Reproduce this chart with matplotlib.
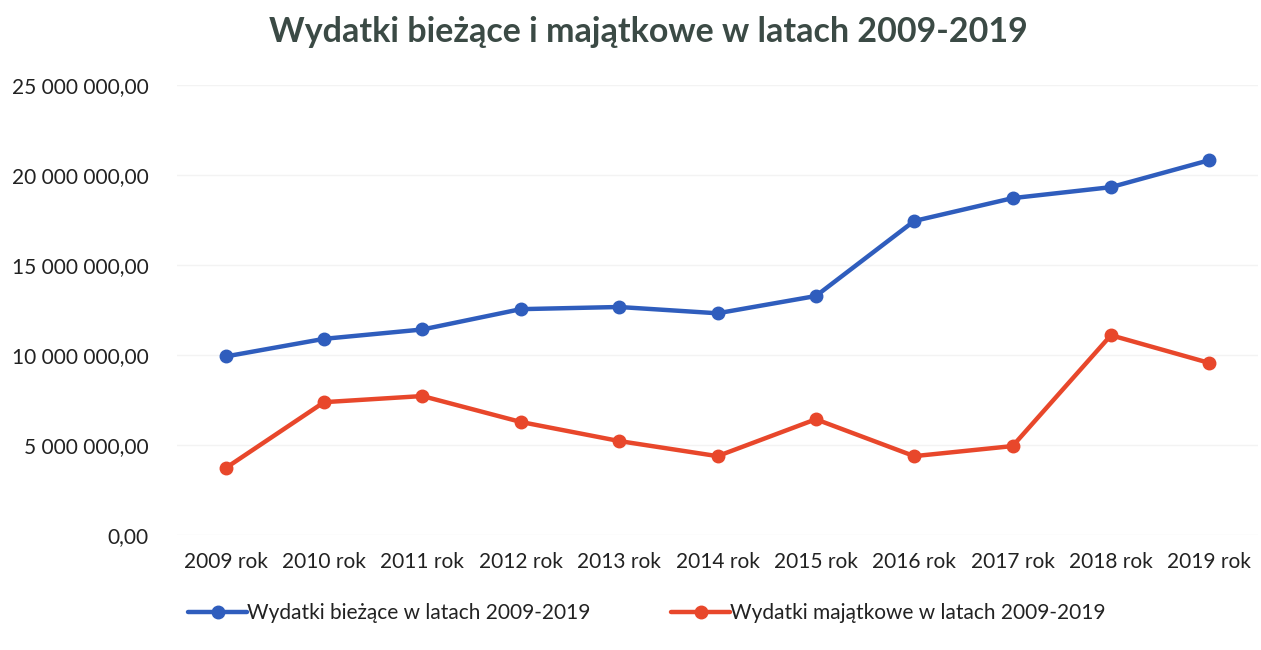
import matplotlib
matplotlib.use("Agg")
import matplotlib.pyplot as plt
from matplotlib.ticker import FuncFormatter

years = ["2009 rok", "2010 rok", "2011 rok", "2012 rok", "2013 rok", "2014 rok",
         "2015 rok", "2016 rok", "2017 rok", "2018 rok", "2019 rok"]
biezace = [9.92e6, 10.9e6, 11.42e6, 12.55e6, 12.67e6, 12.32e6,
           13.28e6, 17.45e6, 18.72e6, 19.33e6, 20.83e6]
majatkowe = [3.72e6, 7.38e6, 7.72e6, 6.28e6, 5.22e6, 4.38e6,
             6.43e6, 4.38e6, 4.94e6, 11.1e6, 9.56e6]
series_names = ["Wydatki bieżące w latach 2009-2019", "Wydatki majątkowe w latach 2009-2019"]
title = "Wydatki bieżące i majątkowe w latach 2009-2019"

plt.rcParams['font.family'] = ['Lato', 'DejaVu Sans']

fig = plt.figure(figsize=(12.61, 6.5), dpi=100)
ax = fig.add_axes([0.140, 0.177, 0.858, 0.692])

x = list(range(len(years)))
ax.plot(x, biezace, color="#2F5DBD", lw=3.2, marker="o", ms=9, label=series_names[0],
        solid_capstyle="round", zorder=3)
ax.plot(x, majatkowe, color="#E8472B", lw=3.2, marker="o", ms=9, label=series_names[1],
        solid_capstyle="round", zorder=3)

ax.set_xlim(-0.5, len(years) - 0.5)
ax.set_ylim(0, 25e6)
ax.set_yticks([0, 5e6, 10e6, 15e6, 20e6, 25e6])

def fmt(v, pos):
    if v == 0:
        return "0,00"
    s = f"{int(round(v)):,}".replace(",", " ")
    return s + ",00"

ax.yaxis.set_major_formatter(FuncFormatter(fmt))
ax.set_xticks(x)
ax.set_xticklabels(years)
ax.tick_params(axis="both", length=0, labelsize=15, colors="#222222")
ax.tick_params(axis="x", pad=12)
ax.tick_params(axis="y", pad=20)
ax.grid(axis="y", color="#f3f3f3", lw=1)
for s in ax.spines.values():
    s.set_visible(False)

fig.text(0.514, 0.951, title, ha="center", va="center", fontsize=24.5, fontweight="bold",
         color="#3B4A45")

leg = fig.legend(loc="center", bbox_to_anchor=(0.513, 0.057), ncol=2, frameon=False,
                 fontsize=15, handlelength=2.8, handletextpad=0.0, columnspacing=3.9)
for t in leg.get_texts():
    t.set_color("#222222")

fig.savefig("out.png", dpi=100, facecolor="white")
